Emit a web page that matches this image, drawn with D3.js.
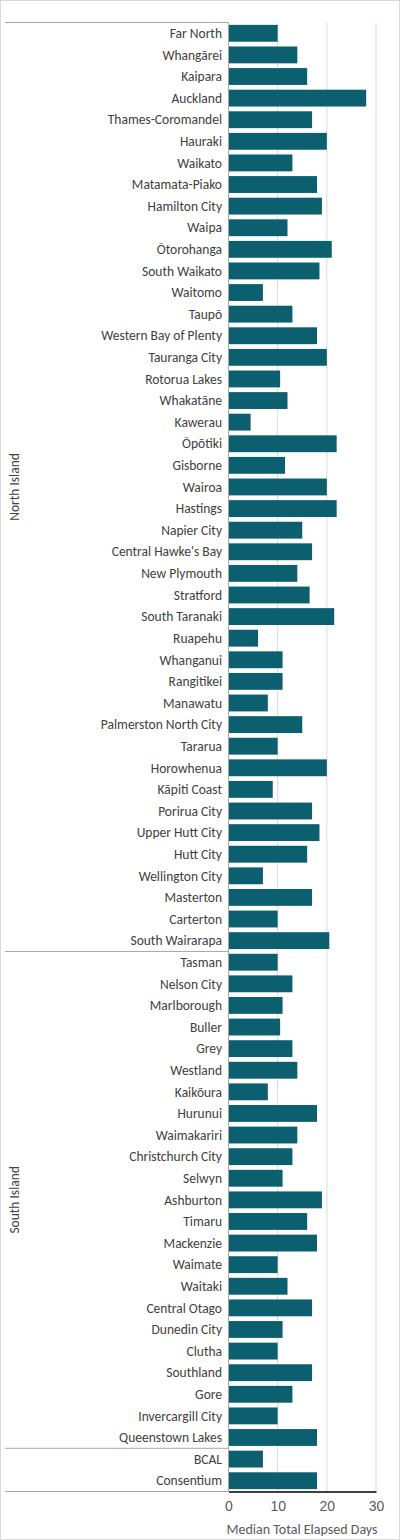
<!DOCTYPE html>
<html>
<head>
<meta charset="utf-8">
<script src="https://cdn.jsdelivr.net/npm/d3@7"></script>
<style>
  body { margin: 0; background: #fff; }
  svg { font-family: Calibri, "Liberation Sans", "Open Sans", sans-serif; }
</style>
</head>
<body>
<script>
// Data:
const northNames = ["Far North","Whangārei","Kaipara","Auckland","Thames-Coromandel","Hauraki","Waikato","Matamata-Piako","Hamilton City","Waipa","Ōtorohanga","South Waikato","Waitomo","Taupō","Western Bay of Plenty","Tauranga City","Rotorua Lakes","Whakatāne","Kawerau","Ōpōtiki","Gisborne","Wairoa","Hastings","Napier City","Central Hawke's Bay","New Plymouth","Stratford","South Taranaki","Ruapehu","Whanganui","Rangitikei","Manawatu","Palmerston North City","Tararua","Horowhenua","Kāpiti Coast","Porirua City","Upper Hutt City","Hutt City","Wellington City","Masterton","Carterton","South Wairarapa"];
const northDays = [10,14,16,28,17,20,13,18,19,12,21,18.5,7,13,18,20,10.5,12,4.5,22,11.5,20,22,15,17,14,16.5,21.5,6,11,11,8,15,10,20,9,17,18.5,16,7,17,10,20.5];
const southNames = ["Tasman","Nelson City","Marlborough","Buller","Grey","Westland","Kaikōura","Hurunui","Waimakariri","Christchurch City","Selwyn","Ashburton","Timaru","Mackenzie","Waimate","Waitaki","Central Otago","Dunedin City","Clutha","Southland","Gore","Invercargill City","Queenstown Lakes"];
const southDays = [10,13,11,10.5,13,14,8,18,14,13,11,19,16,18,10,12,17,11,10,17,13,10,18];
const otherNames = ["BCAL","Consentium"];
const otherDays = [7,18];
const xTicks = [0,10,20,30];

const rows = [];
northNames.forEach((n,i) => rows.push({name:n, v:northDays[i], g:"North Island"}));
southNames.forEach((n,i) => rows.push({name:n, v:southDays[i], g:"South Island"}));
otherNames.forEach((n,i) => rows.push({name:n, v:otherDays[i], g:""}));

const W = 400, H = 1540;
const svg = d3.select("body").append("svg").attr("width", W).attr("height", H);

svg.append("rect").attr("x",0.5).attr("y",0.5).attr("width",W-1).attr("height",H-1)
  .attr("fill","#fff").attr("stroke","#d9d9d9");

const x = d3.scaleLinear().domain([0,30]).range([228.5,376]);
const y = d3.scaleBand().domain(rows.map(d=>d.name)).range([22.5,1491.5]).paddingInner(0.22).paddingOuter(0.11);
const step = y.step();

// gridlines
svg.append("g").selectAll("line").data(xTicks.slice(1)).join("line")
  .attr("x1",d=>x(d)).attr("x2",d=>x(d)).attr("y1",22.5).attr("y2",1491.5)
  .attr("stroke","#d9d9d9").attr("stroke-width",1);

// bars
svg.append("g").selectAll("rect").data(rows).join("rect")
  .attr("x",x(0)).attr("y",d=>y(d.name)).attr("height",y.bandwidth())
  .attr("width",d=>x(d.v)-x(0)).attr("fill","#0c5f6e");

// category labels
svg.append("g").selectAll("text").data(rows).join("text")
  .attr("x",222).attr("y",d=>y(d.name)+y.bandwidth()/2).attr("dy","0.35em")
  .attr("text-anchor","end").attr("font-size",13.5).attr("fill","#404040")
  .text(d=>d.name);

// left axis + group separators
const ax = "#a6a6a6";
svg.append("line").attr("x1",x(0)).attr("x2",x(0)).attr("y1",22.5).attr("y2",1491.5).attr("stroke",ax);
const bounds = [0, northNames.length, northNames.length+southNames.length, rows.length];
bounds.forEach(b => {
  const yy = 22.5 + b*step;
  svg.append("line").attr("x1",5).attr("x2",x(0)).attr("y1",yy).attr("y2",yy).attr("stroke",ax);
});
[["North Island",0,northNames.length],["South Island",northNames.length,northNames.length+southNames.length]].forEach(([t,a,b])=>{
  const cy = 22.5 + (a+b)/2*step;
  svg.append("text").attr("transform",`translate(14,${cy}) rotate(-90)`)
    .attr("text-anchor","middle").attr("dy","0.35em").attr("font-size",13.5).attr("fill","#404040").text(t);
});

// x axis
const xAxis = d3.axisBottom(x).tickValues(xTicks).tickSize(0).tickPadding(10);
const gx = svg.append("g").attr("transform","translate(0,1491.5)").call(xAxis);
gx.select(".domain").attr("stroke","#000").attr("stroke-width",1.5);
gx.selectAll("text").attr("font-size",14).attr("fill","#595959").attr("font-family","inherit");

svg.append("text").attr("x",302).attr("y",1534).attr("text-anchor","middle")
  .attr("font-size",14).attr("fill","#595959").text("Median Total Elapsed Days");
</script>
</body>
</html>
